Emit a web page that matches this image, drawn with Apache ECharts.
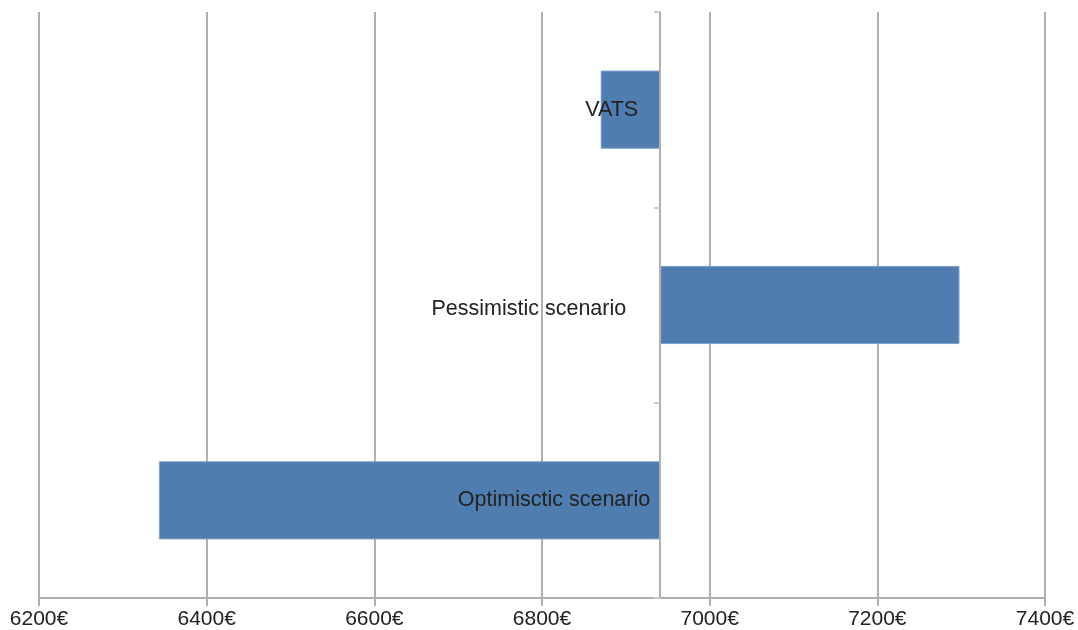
<!DOCTYPE html>
<html>
<head>
<meta charset="utf-8">
<script src="https://cdn.jsdelivr.net/npm/echarts@6/dist/echarts.min.js"></script>
<style>html,body{margin:0;padding:0;background:#fff;}#c{width:1078px;height:630px;}</style>
</head>
<body>
<div id="c"></div>
<script>
const categories = ['VATS', 'Pessimistic scenario', 'Optimisctic scenario'];
const values = [6870, 7298, 6343];
const baseValue = 6941;
const xTicks = [6200, 6400, 6600, 6800, 7000, 7200, 7400];

const xMin = xTicks[0], xMax = xTicks[xTicks.length - 1];
const gridLeft = 39, gridRight = 33;
const gridWidth = 1078 - gridLeft - gridRight;
const yOffset = -((baseValue - xMin) / (xMax - xMin)) * gridWidth;

const invisible = values.map(v => Math.min(v, baseValue));
const visible = values.map(v => Math.abs(v - baseValue));
const labelKeys = ['a', 'b', 'c'];
const font = 'Liberation Sans';

const chart = echarts.init(document.getElementById('c'));
chart.setOption({
  animation: false,
  grid: { left: gridLeft, right: gridRight, top: 12, bottom: 31 },
  xAxis: {
    type: 'value', min: xMin, max: xMax, interval: 200,
    axisLine: { show: true, lineStyle: { color: '#b0b0b0', width: 2 } },
    axisTick: { show: true, length: 8, lineStyle: { color: '#b0b0b0', width: 2 } },
    splitLine: { show: true, lineStyle: { color: '#b0b0b0', width: 2 } },
    axisLabel: { formatter: v => v + '€', color: '#222', fontSize: 21, fontFamily: font, margin: 11 }
  },
  yAxis: {
    type: 'category', inverse: true, data: categories,
    position: 'left', offset: yOffset,
    axisLine: { show: true, lineStyle: { color: '#b0b0b0', width: 2 } },
    axisTick: { show: true, length: 6, lineStyle: { color: '#c8c8c8', width: 2 } },
    splitLine: { show: false },
    z: 10,
    axisLabel: {
      margin: 10,
      formatter: (v, i) => '{' + labelKeys[i] + '|' + v + '}',
      rich: {
        a: { color: '#222', fontSize: 21.5, fontFamily: font, padding: [0, 12, 0, 0] },
        b: { color: '#222', fontSize: 21.5, fontFamily: font, padding: [8, 24, 0, 0] },
        c: { color: '#222', fontSize: 21.5, fontFamily: font, padding: [0, 0, 0, 0] }
      }
    }
  },
  series: [
    {
      type: 'bar', stack: 's', data: invisible, silent: true,
      itemStyle: { color: 'transparent' }, barCategoryGap: '60%'
    },
    {
      type: 'bar', stack: 's', data: visible,
      itemStyle: { color: '#4f7db0', borderColor: '#7c9fc9', borderWidth: 1 },
      barCategoryGap: '60%'
    }
  ]
});
</script>
</body>
</html>
